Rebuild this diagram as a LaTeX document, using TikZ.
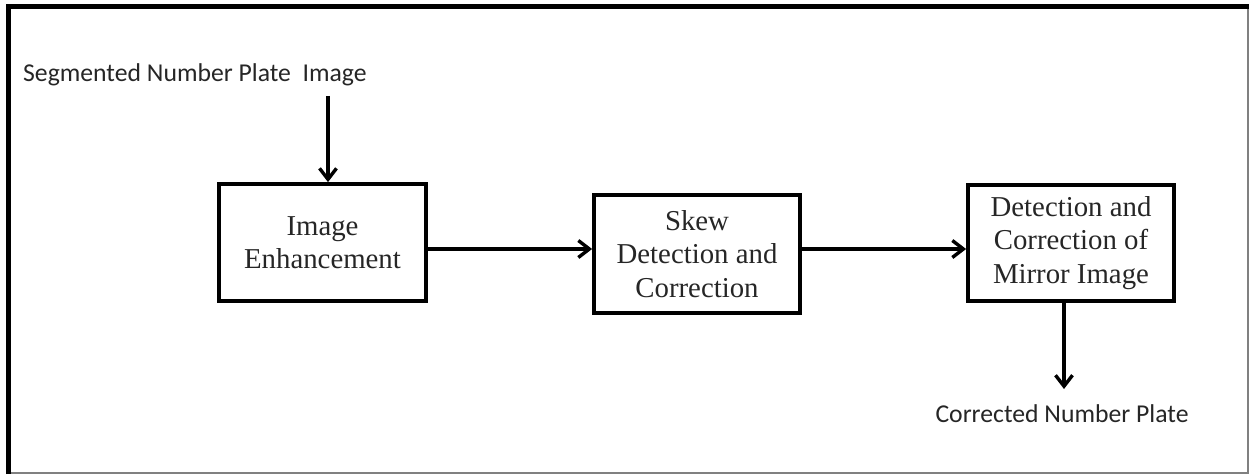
\documentclass[tikz,border=0pt]{standalone}
\usepackage{fontspec}
\setmainfont{Liberation Serif}
\newfontfamily\labfont{Carlito}
\usetikzlibrary{arrows.meta}
\tikzset{
  procbox/.style={draw=black, line width=3.8pt, align=center, inner sep=0pt,
    font=\fontsize{28.8}{33.5}\selectfont, text=black!85},
  arr/.style={line width=3.4pt, -{Straight Barb[length=11pt,width=17pt]}},
  lab/.style={font=\labfont\fontsize{25.7}{30}\selectfont, text=black!85, inner sep=0pt},
}
\begin{document}
\begin{tikzpicture}[x=1pt,y=-1pt]
\useasboundingbox (0,0) rectangle (1249,476);
% frame
\draw[line width=5pt, black] (8.5,474) -- (8.5,6.5) -- (1249,6.5);
\draw[line width=2pt, black!50] (11,473) -- (1247.5,473) -- (1247.5,9);
% boxes
\node[procbox, minimum width=207pt, minimum height=117pt] (b1) at (322.5,242.5) {Image\\Enhancement};
\node[procbox, minimum width=206pt, minimum height=118pt] (b2) at (697,254) {Skew\\Detection and\\Correction};
\node[procbox, minimum width=206pt, minimum height=116pt] (b3) at (1071,243) {Detection and\\Correction of\\Mirror Image};
% labels
\node[lab, anchor=base west] (inp) at (23,82) {Segmented Number Plate\ \ Image};
\node[lab, anchor=base] (outp) at (1062,422) {Corrected Number Plate};
\coordinate (instart) at (328,96);
\coordinate (outend) at (1064,389);
\coordinate (a1) at ([yshift=-6.5pt]b1.east);
\coordinate (a2) at ([yshift=5pt]b2.east);
% connectors
\draw[arr] (instart) -- (instart |- b1.north);
\draw[arr] (a1) -- (b2.west |- a1);
\draw[arr] (a2) -- (b3.west |- a2);
\draw[arr] (outend |- b3.south) -- (outend);
\end{tikzpicture}
\end{document}
